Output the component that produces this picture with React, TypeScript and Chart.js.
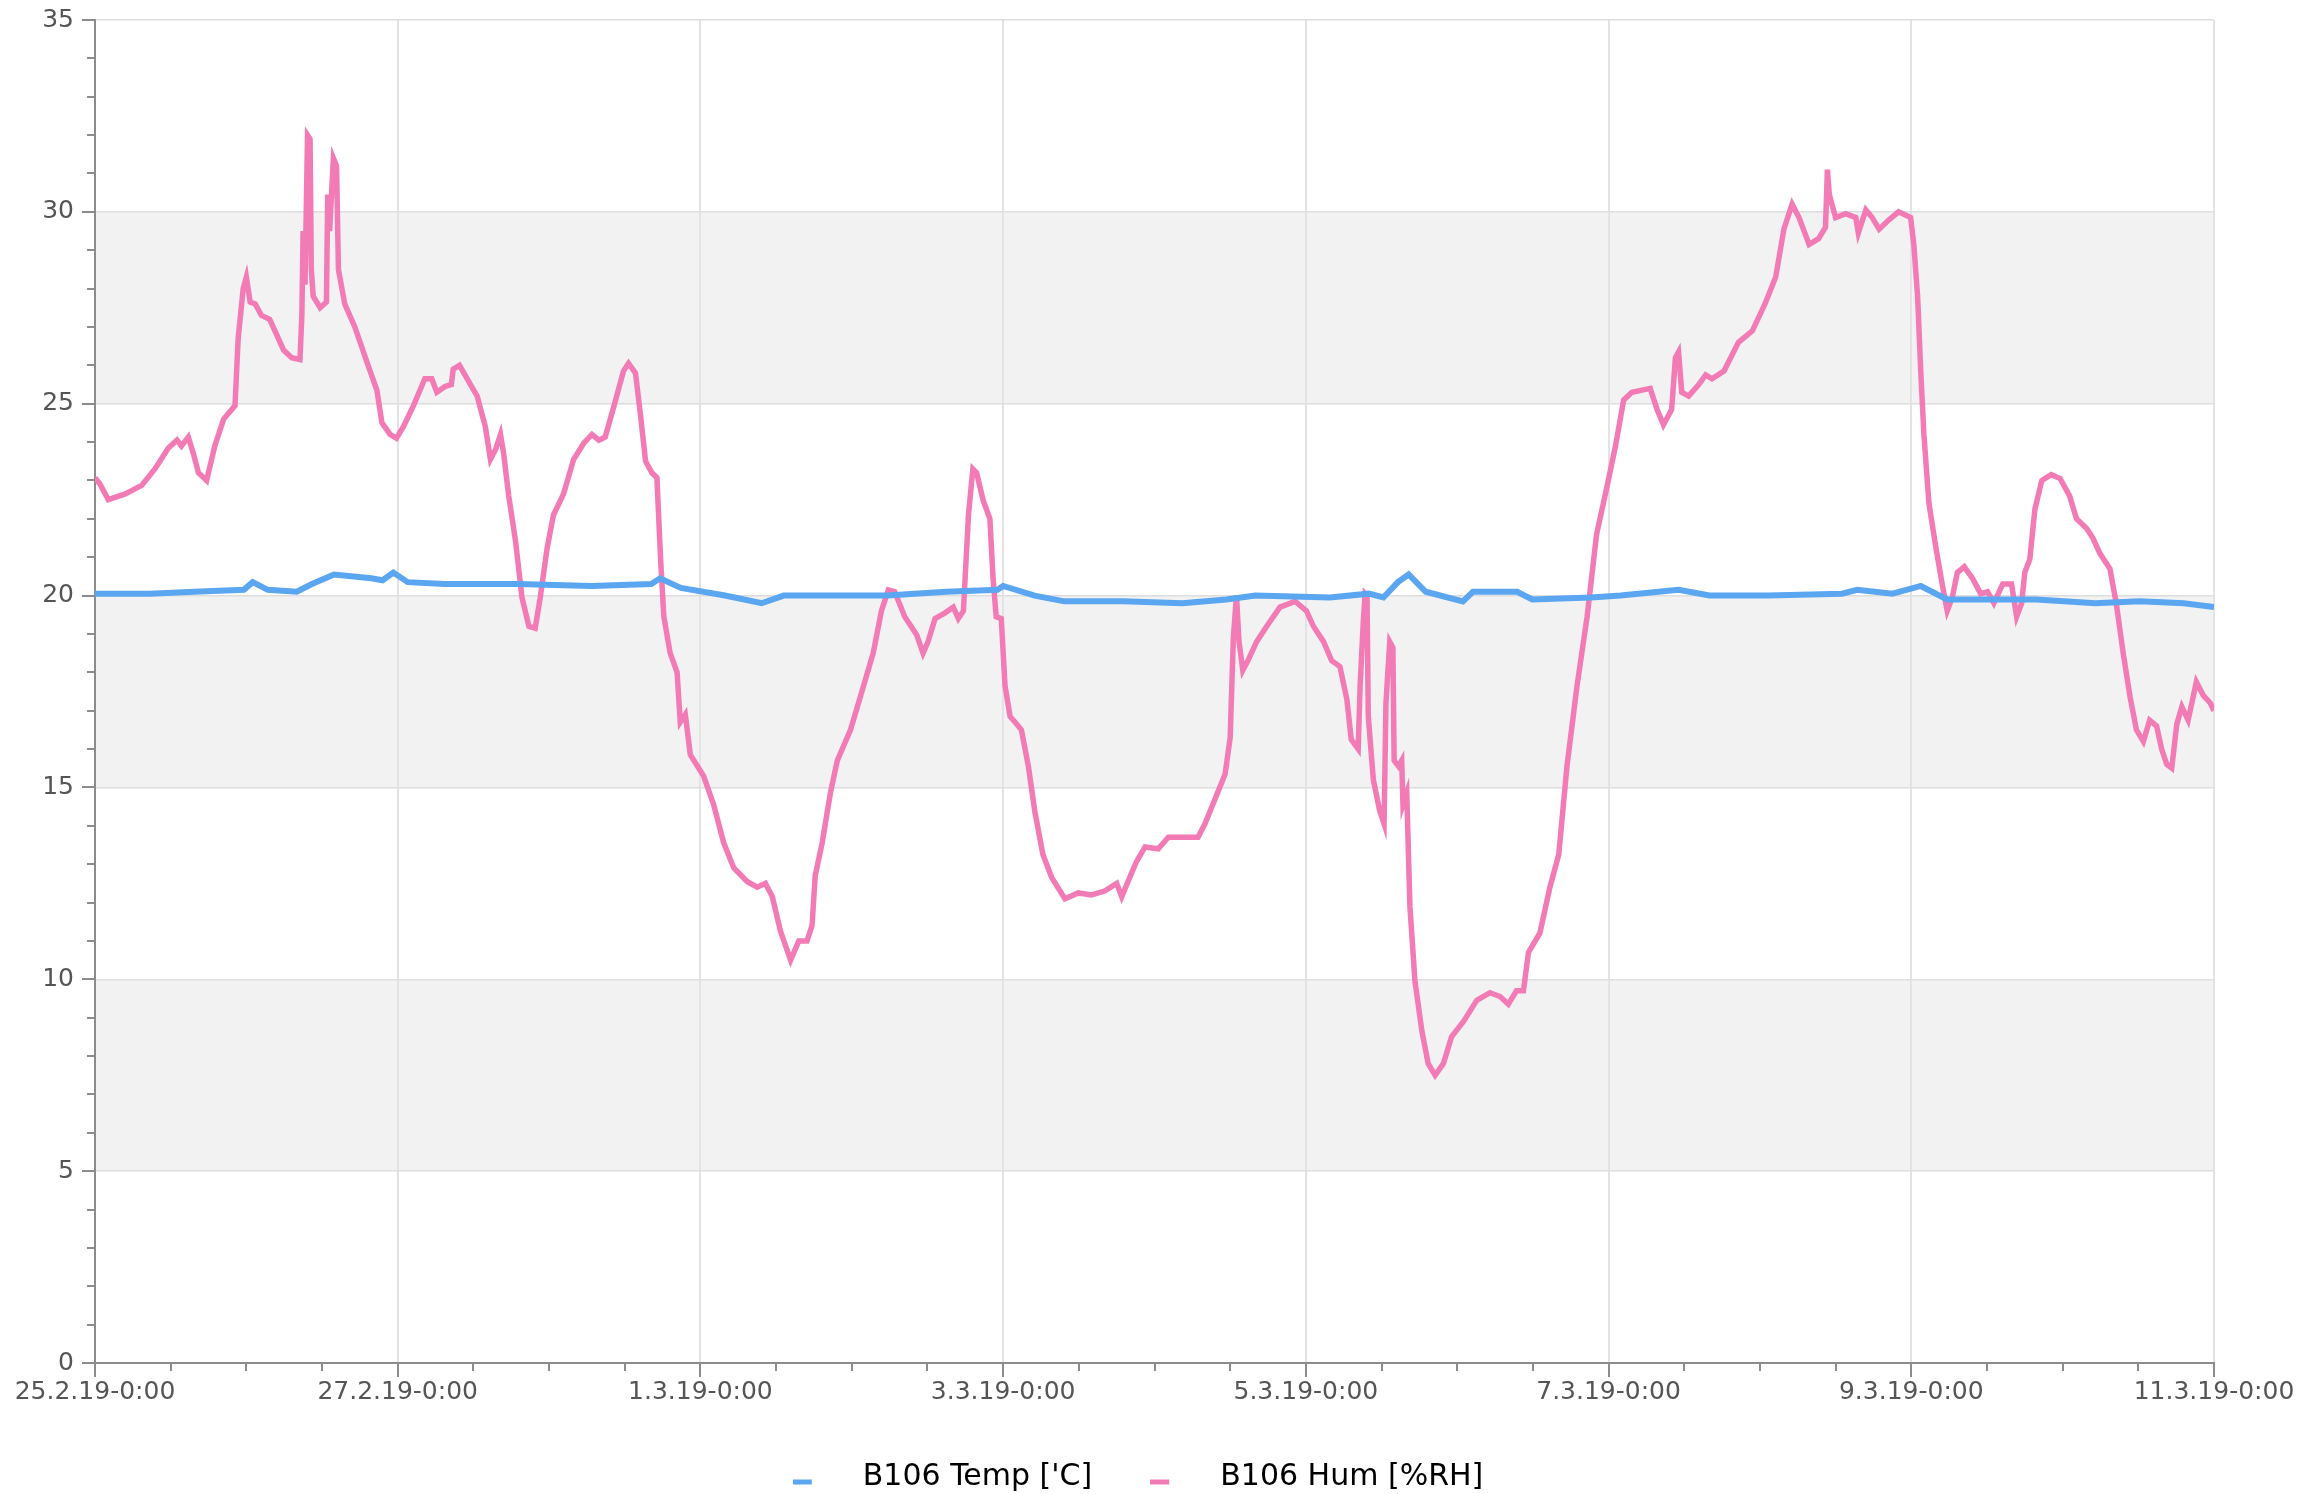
import React, { useEffect, useRef } from "react";
import { Chart, registerables } from "chart.js";

Chart.register(...registerables);

// Hours since 25.2.19 0:00
const xTickLabels = [
  "25.2.19-0:00",
  "27.2.19-0:00",
  "1.3.19-0:00",
  "3.3.19-0:00",
  "5.3.19-0:00",
  "7.3.19-0:00",
  "9.3.19-0:00",
  "11.3.19-0:00",
];

const seriesNames = ["B106 Temp ['C]", "B106 Hum [%RH]"];
const seriesColors = ["#5aa6f0", "#f27bb6"];

const tempHours = [
  0, 8.7, 15.7, 23.6, 25, 27.4, 32, 34.4, 37.9, 43.8, 45.6, 47.3, 49.6, 55.4, 67,
  78.8, 88.2, 89.6, 92.9, 99.9, 105.7, 109.2, 116.3, 125.6, 135, 143.1, 144, 149,
  153.7, 163, 172.4, 179.4, 184, 195.8, 202, 204.3, 206.6, 208.3, 211, 216.9,
  218.5, 225.5, 227.9, 237.2, 241.9, 251.1, 256, 265.3, 277, 279.4, 285, 288.4,
  289.5, 293.7, 307.8, 317.2, 324.2, 331.2, 336,
];
const tempValues = [
  20.05, 20.05, 20.1, 20.15, 20.35, 20.15, 20.1, 20.3, 20.55, 20.45, 20.4, 20.6,
  20.35, 20.3, 20.3, 20.25, 20.3, 20.45, 20.2, 20.0, 19.8, 20.0, 20.0, 20.0, 20.1,
  20.15, 20.25, 20.0, 19.85, 19.85, 19.8, 19.9, 20.0, 19.95, 20.05, 19.95, 20.35,
  20.55, 20.1, 19.85, 20.1, 20.1, 19.9, 19.95, 20.0, 20.15, 20.0, 20.0, 20.05,
  20.15, 20.05, 20.2, 20.25, 19.9, 19.9, 19.8, 19.85, 19.8, 19.7,
];

const humHours = [
  0, 0.8, 2.1, 4.8, 7.4, 9.5, 11.6, 13, 13.7, 14.8, 15.6, 16.4, 17.7, 19, 20.4,
  22.2, 22.7, 23.5, 24, 24.6, 25.4, 26.4, 27.7, 29.9, 31.2, 32.5, 32.8, 33, 33.3,
  33.7, 34.1, 34.3, 34.6, 35.7, 36.7, 36.9, 37.2, 37.8, 38.3, 38.6, 39.6, 41.2,
  43.3, 44.7, 45.5, 46.8, 47.8, 48.9, 50.5, 52.3, 53.4, 54.2, 55.5, 56.5, 56.8,
  57.8, 59.7, 60.6, 61.9, 62.7, 63.5, 64.3, 64.8, 65.6, 66.7, 67.7, 68.8, 69.8,
  70.6, 71.7, 72.7, 74.3, 75.9, 77.5, 78.8, 79.9, 80.9, 82.3, 83.8, 84.6, 85.7,
  86.5, 87.3, 88.3, 89.1, 89.7, 90.2, 91.2, 92.3, 92.8, 93.6, 94.4, 96.5, 98.1,
  99.7, 101.3, 103.4, 105, 106.3, 107.4, 108.7, 110.3, 111.6, 112.9, 113.7, 114.2,
  115.3, 116.6, 117.7, 119.8, 121.6, 123.4, 124.7, 125.8, 126.8, 128.4, 130.3,
  131.3, 132.1, 133.2, 134.8, 136.1, 136.9, 137.7, 138.5, 139.2, 139.8, 140.8,
  141.9, 142.4, 142.9, 143.7, 144.3, 145.1, 145.9, 146.9, 148, 149, 150.3, 151.7,
  153.8, 155.9, 158, 160.1, 162, 162.8, 163.8, 165.1, 166.5, 168.6, 170.2, 172.3,
  174.9, 176, 177.6, 179.2, 180, 180.5, 181, 181.4, 182, 182.8, 184.2, 185.8,
  187.9, 190.3, 192.1, 193.2, 194.8, 196.1, 197.4, 198.5, 199.2, 200.3, 200.6,
  201.1, 201.4, 201.7, 201.9, 202.7, 203.7, 204.4, 204.7, 205.3, 205.8, 206,
  206.7, 207.2, 207.4, 208, 208.5, 209.3, 210.4, 211.4, 212.5, 213.8, 215.1, 217,
  219.1, 221.2, 222.8, 224.1, 225.4, 226.5, 227.3, 229.1, 230.7, 232.1, 233.4,
  235, 236.6, 238.1, 239.7, 241.1, 242.4, 243.7, 246.6, 247.7, 248.7, 250, 250.6,
  251.1, 251.6, 252.7, 254.3, 255.4, 256.4, 258.3, 260.6, 262.8, 264.8, 266.5,
  267.8, 269.1, 270.2, 271.8, 273.3, 274.4, 274.7, 275, 276, 277.6, 279.2, 279.6,
  280.8, 281.8, 282.9, 284.5, 286, 287.9, 288.4, 289, 289.5, 290, 290.8, 291.9,
  292.9, 293.7, 294.5, 295.3, 296.4, 297.7, 299, 300.1, 301.1, 302.5, 303.9,
  304.7, 305.5, 306, 306.8, 307.6, 308.7, 310.2, 311.6, 313.1, 314.2, 315.8,
  316.8, 317.9, 319.5, 320.5, 321.6, 322.7, 323.7, 324.8, 325.8, 326.9, 327.7,
  328.5, 329.3, 330.1, 330.9, 331.9, 333.2, 334.3, 335.4, 336,
];
const humValues = [
  23.07, 22.9, 22.5, 22.65, 22.87, 23.3, 23.84, 24.05, 23.9, 24.13, 23.7, 23.2,
  23.0, 23.9, 24.6, 24.95, 26.7, 28.0, 28.3, 27.65, 27.6, 27.3, 27.2, 26.4, 26.2,
  26.15, 27.3, 29.5, 28.1, 32.0, 31.9, 28.5, 27.8, 27.5, 27.65, 30.45, 29.5, 31.4,
  31.2, 28.5, 27.6, 27.0, 26.0, 25.35, 24.5, 24.2, 24.1, 24.4, 24.95, 25.65,
  25.65, 25.3, 25.45, 25.5, 25.9, 26.0, 25.45, 25.2, 24.4, 23.55, 23.8, 24.2,
  23.7, 22.6, 21.4, 19.95, 19.2, 19.15, 19.95, 21.25, 22.1, 22.65, 23.55, 23.97,
  24.2, 24.05, 24.13, 24.95, 25.85, 26.05, 25.8, 24.7, 23.5, 23.2, 23.07, 20.9,
  19.45, 18.5, 18.0, 16.7, 16.9, 15.85, 15.3, 14.55, 13.55, 12.9, 12.55, 12.4,
  12.5, 12.15, 11.25, 10.5, 11.0, 11.0, 11.4, 12.7, 13.55, 14.85, 15.7, 16.5,
  17.5, 18.5, 19.6, 20.15, 20.1, 19.45, 18.97, 18.5, 18.8, 19.4, 19.55, 19.7,
  19.4, 19.6, 22.1, 23.3, 23.2, 22.5, 22.0, 20.45, 19.45, 19.4, 17.65, 16.85,
  16.7, 16.5, 15.55, 14.4, 13.25, 12.65, 12.1, 12.25, 12.2, 12.3, 12.5, 12.15,
  12.55, 13.05, 13.45, 13.4, 13.7, 13.7, 13.7, 14.05, 14.7, 15.35, 16.3, 18.9,
  20.0, 18.8, 18.05, 18.3, 18.8, 19.2, 19.7, 19.85, 19.6, 19.2, 18.8, 18.3,
  18.15, 17.3, 16.25, 16.0, 17.65, 19.3, 20.05, 20.0, 16.85, 15.2, 14.4, 14.05,
  17.2, 18.8, 18.65, 15.7, 15.55, 15.7, 14.55, 14.85, 11.9, 9.95, 8.65, 7.8, 7.5,
  7.8, 8.5, 8.9, 9.45, 9.65, 9.55, 9.35, 9.7, 9.7, 10.7, 11.2, 12.4, 13.25, 15.55,
  17.65, 19.45, 21.6, 22.8, 23.9, 25.1, 25.3, 25.4, 24.85, 24.45, 24.85, 26.2,
  26.35, 25.3, 25.2, 25.5, 25.75, 25.65, 25.85, 26.6, 26.9, 27.6, 28.3, 29.55,
  30.2, 29.85, 29.15, 29.3, 29.6, 31.1, 30.45, 29.85, 29.95, 29.85, 29.45, 30.05,
  29.85, 29.55, 29.8, 30.0, 29.85, 29.15, 27.8, 25.85, 24.2, 22.4, 21.25, 20.3,
  19.6, 19.95, 20.6, 20.75, 20.45, 20.05, 20.1, 19.8, 20.3, 20.3, 19.45, 19.8,
  20.6, 20.95, 22.25, 23.0, 23.15, 23.05, 22.6, 22.0, 21.75, 21.5, 21.1, 20.7,
  19.8, 18.5, 17.35, 16.5, 16.2, 16.75, 16.6, 16.0, 15.6, 15.5, 16.65, 17.1,
  16.75, 17.75, 17.4, 17.2, 17.0,
];

// shaded horizontal bands [from, to]
const yBands = [
  [25, 30],
  [15, 20],
  [5, 10],
];

const FONT = "'DejaVu Sans', sans-serif";

export default function App() {
  const ref = useRef<HTMLCanvasElement>(null);

  useEffect(() => {
    document.body.style.margin = "0";
    const canvas = ref.current;
    if (!canvas) return;

    const makeDash = (color: string) => {
      const c = document.createElement("canvas");
      c.width = 55;
      c.height = 30;
      const g = c.getContext("2d")!;
      g.fillStyle = color;
      g.fillRect(0, 17, 19, 5);
      return c;
    };
    const dashes = seriesColors.map(makeDash);

    const bandPlugin = {
      id: "bands",
      beforeDraw(chart: any) {
        const { ctx, chartArea, scales } = chart;
        const y = scales.y;
        ctx.save();
        ctx.fillStyle = "#f2f2f2";
        for (const [a, b] of yBands) {
          const top = y.getPixelForValue(b);
          const bot = y.getPixelForValue(a);
          ctx.fillRect(chartArea.left, top, chartArea.right - chartArea.left, bot - top);
        }
        ctx.restore();
      },
    };

    const tickPlugin = {
      id: "tickMarks",
      afterDraw(chart: any) {
        const { ctx, chartArea, scales } = chart;
        const x = scales.x;
        const y = scales.y;
        ctx.save();
        ctx.strokeStyle = "#8c8c8c";
        ctx.lineWidth = 2;
        ctx.beginPath();
        for (let v = 0; v <= 35; v += 1) {
          const py = Math.round(y.getPixelForValue(v));
          const len = v % 5 === 0 ? 13 : 8;
          ctx.moveTo(chartArea.left - len, py);
          ctx.lineTo(chartArea.left, py);
        }
        for (let h = 0; h <= 336; h += 12) {
          const px = Math.round(x.getPixelForValue(h));
          const len = h % 48 === 0 ? 14 : 8;
          ctx.moveTo(px, chartArea.bottom);
          ctx.lineTo(px, chartArea.bottom + len);
        }
        ctx.stroke();
        ctx.restore();
      },
    };

    const chart = new Chart(canvas, {
      type: "line",
      data: {
        datasets: [
          {
            label: seriesNames[0],
            data: tempHours.map((h, i) => ({ x: h, y: tempValues[i] })),
            borderColor: seriesColors[0],
            backgroundColor: seriesColors[0],
            borderWidth: 6,
            pointRadius: 0,
            tension: 0,
          },
          {
            label: seriesNames[1],
            data: humHours.map((h, i) => ({ x: h, y: humValues[i] })),
            borderColor: seriesColors[1],
            backgroundColor: seriesColors[1],
            borderWidth: 5.5,
            pointRadius: 0,
            tension: 0,
          },
        ],
      },
      options: {
        responsive: false,
        animation: false,
        events: [],
        layout: { padding: { top: 20, right: 37, bottom: -8.5, left: 0 } },
        scales: {
          x: {
            type: "linear",
            min: 0,
            max: 336,
            ticks: {
              stepSize: 48,
              autoSkip: false,
              maxRotation: 0,
              padding: 14,
              color: "#555555",
              font: { family: FONT, size: 25 },
              callback: (v: any) => xTickLabels[Math.round(Number(v) / 48)] ?? "",
            },
            grid: { color: "#e3e3e3", lineWidth: 2, drawTicks: false },
            border: { color: "#8c8c8c", width: 2 },
            afterFit: (s: any) => {
              s.height = 41.5;
              s.paddingLeft = 0;
              s.paddingRight = 99;
            },
          },
          y: {
            min: 0,
            max: 35,
            ticks: {
              stepSize: 5,
              padding: 21,
              color: "#555555",
              font: { family: FONT, size: 25 },
            },
            grid: { color: "#dedede", lineWidth: 1.5, drawTicks: false },
            border: { color: "#8c8c8c", width: 2 },
            afterFit: (s: any) => {
              s.width = 95;
              s.paddingTop = 0;
              s.paddingBottom = 0;
            },
          },
        },
        plugins: {
          tooltip: { enabled: false },
          legend: {
            position: "bottom",
            fullSize: true,
            labels: {
              usePointStyle: true,
              pointStyleWidth: 55,
              padding: 58,
              color: "#505050",
              font: { family: FONT, size: 30 },
              generateLabels: () =>
                seriesNames.map((name, i) => ({
                  text: name,
                  fillStyle: seriesColors[i],
                  strokeStyle: seriesColors[i],
                  lineWidth: 0,
                  pointStyle: dashes[i] as any,
                  hidden: false,
                  datasetIndex: i,
                })),
            },
          },
        },
      },
      plugins: [bandPlugin, tickPlugin],
    } as any);

    return () => chart.destroy();
  }, []);

  return (
    <div style={{ position: "fixed", left: 0, top: 0, width: 2313, height: 1494, background: "#ffffff" }}>
      <canvas ref={ref} width={2313} height={1494} style={{ display: "block", width: 2313, height: 1494 }} />
    </div>
  );
}
